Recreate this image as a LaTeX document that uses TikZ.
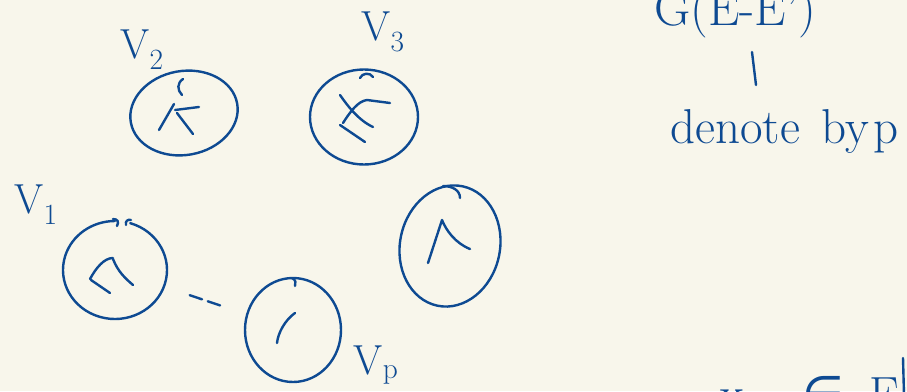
\documentclass[tikz,border=0pt]{standalone}
\usepackage{fontspec}
\newfontfamily\dejavu{DejaVu Sans}
\usetikzlibrary{shapes.geometric,calc}
\definecolor{ink}{RGB}{14,74,146}
\definecolor{paper}{RGB}{248,246,235}
\begin{document}
\begin{tikzpicture}[x=1pt,y=-1pt,
  pen/.style={draw=ink,line width=2.4pt,line cap=round,line join=round},
  vtx/.style={ellipse,pen,inner sep=0pt},
  vtxhidden/.style={ellipse,inner sep=0pt},
  lbl/.style={text=ink,font=\fontsize{42}{44}\selectfont,inner sep=0pt},
  big/.style={text=ink,font=\fontsize{49}{51}\selectfont,inner sep=0pt}]
\useasboundingbox (0,0) rectangle (907,391);
\fill[paper] (0,0) rectangle (907,391);
\clip (0,0) rectangle (907,391);

% vertices
\node[vtx,minimum width=108pt,minimum height=84pt,rotate=10] (v2) at (184,113) {};
\node[vtx,minimum width=108pt,minimum height=95pt] (v3) at (364,117) {};
\node[vtxhidden,minimum width=104pt,minimum height=98pt] (v1) at (115,270) {};
\node[vtx,minimum width=96pt,minimum height=104pt] (vp) at (293,330) {};
\node[vtx,minimum width=100pt,minimum height=122pt,rotate=-12] (v4) at (450,246) {};

% V1 circle with a gap at the top
\draw[pen] ($(v1.center)+(287:52 and 49)$) arc[start angle=287,end angle=630,x radius=52,y radius=49];
\draw[pen] (113,219) .. controls (118,219) and (119,222) .. (117,226);
\draw[pen] (126,225) .. controls (125,221) and (128,219) .. (131,220);

% marks inside the vertices
\draw[pen] (183,79) .. controls (177,83) and (177,90) .. (182,95);
\draw[pen] (174,104) -- (159,130);
\draw[pen] (175,110) -- (199,107);
\draw[pen] (177,113) -- (193,134);

\draw[pen] (360,78) .. controls (362,73) and (370,72) .. (373,77);
\draw[pen] (340,95) .. controls (347,105) and (358,120) .. (373,127);
\draw[pen] (343,123) .. controls (350,112) and (358,101) .. (367,100) -- (390,103);
\draw[pen] (340,125) -- (365,142);

\draw[pen] (90,279) .. controls (96,268) and (104,258) .. (113,258);
\draw[pen] (113,259) .. controls (118,272) and (126,279) .. (133,285);
\draw[pen] (91,280) -- (110,293);

\draw[pen] (292,278) .. controls (296,280) and (296,283) .. (295,286);
\draw[pen] (277,343) .. controls (278,333) and (285,320) .. (295,313);

\draw[pen] (443,186) .. controls (452,186) and (460,190) .. (460,198);
\draw[pen] (428,263) -- (442,220) .. controls (446,230) and (455,243) .. (470,249);

% connector
\draw[pen,dash pattern=on 13pt off 6pt,shorten <=27pt,shorten >=27pt] (v1) -- (vp);

% labels
\node[lbl] (l2) at (142,50) {V\textsubscript{2}};
\node[lbl] (l3) at (383,32) {V\textsubscript{3}};
\node[lbl] (l1) at (36,205) {V\textsubscript{1}};
\node[lbl] (lp) at (376,365) {V\textsubscript{p}};

% right-hand notes
\node[big,anchor=base west,font=\fontsize{50}{52}\selectfont] (g) at (654,25) {G(E-E')};
\coordinate (bt) at (752,52);
\coordinate (bb) at (756,85);
\draw[pen] (bt) -- (bb);
\node[big,anchor=base west] (den) at (670,143) {denote\hspace{22pt}by\hspace{4pt}p};
\node[big,anchor=base west,font=\fontsize{48}{50}\selectfont] (xe) at (720,410) {x\hspace{59pt}{\dejavu ∈}\hspace{25pt}E};
\coordinate (xt) at (903,358);
\coordinate (xb) at (904,395);
\draw[pen] (xt) -- (xb);
\end{tikzpicture}
\end{document}
